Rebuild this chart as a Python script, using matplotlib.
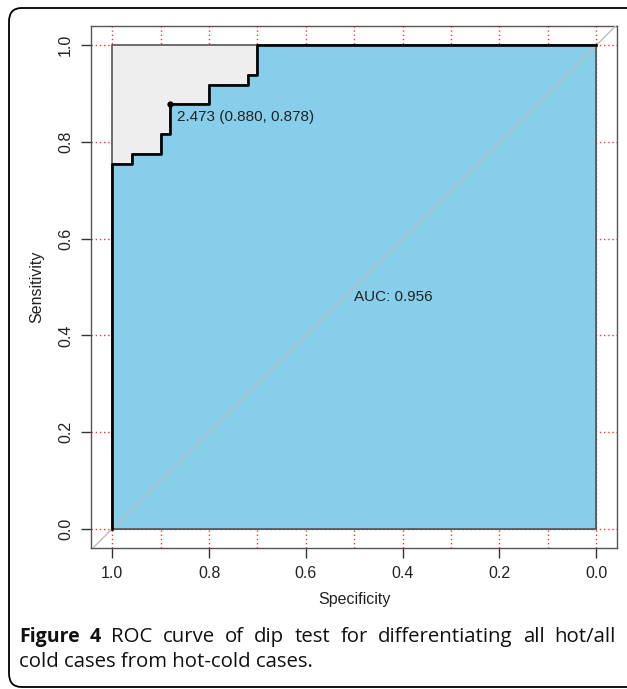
import matplotlib
matplotlib.use("Agg")
import matplotlib.pyplot as plt
from matplotlib.patches import FancyBboxPatch, Polygon
import numpy as np

# ROC curve points (specificity, sensitivity)
roc_spec = [1.0, 1.0, 0.96, 0.96, 0.90, 0.90, 0.88, 0.88, 0.80, 0.80, 0.72, 0.72, 0.70, 0.70, 0.0]
roc_sens = [0.0, 0.755, 0.755, 0.776, 0.776, 0.816, 0.816, 0.878, 0.878, 0.918, 0.918, 0.939, 0.939, 1.0, 1.0]
thr_label = "2.473 (0.880, 0.878)"
thr_point = (0.880, 0.878)
auc_label = "AUC: 0.956"
ticks = [1.0, 0.8, 0.6, 0.4, 0.2, 0.0]
tick_labels = ["1.0", "0.8", "0.6", "0.4", "0.2", "0.0"]
grid_x = np.round(np.arange(0, 1.01, 0.1), 1)
grid_y = np.round(np.arange(0, 1.01, 0.2), 1)
caption_bold = "Figure 4"
caption_line1 = "ROC curve of dip test for differentiating all hot/all"
caption_line2 = "cold cases from hot-cold cases."

plt.rcParams['font.family'] = ['Liberation Sans', 'DejaVu Sans']
cap_font = ['Open Sans', 'DejaVu Sans']
cap_bold_size = 14
cap_size = 14.7

W, H = 627, 689
fig = plt.figure(figsize=(W / 100, H / 100), dpi=100)

# outer rounded frame
frame = FancyBboxPatch((9 / W, 1 - 687 / H), (640 - 9) / W, (687 - 8) / H,
                       boxstyle="round,pad=0,rounding_size=0.02",
                       transform=fig.transFigure, fill=False,
                       edgecolor='black', lw=1.3, clip_on=False)
fig.patches.append(frame)

ax = fig.add_axes([91 / W, 1 - 548 / H, (617 - 91) / W, (548 - 26) / H])
ax.set_xlim(1.044, -0.043)
ax.set_ylim(-0.04, 1.04)

# dotted red grid
for gx in grid_x:
    ax.axvline(gx, color='#ff3333', ls=(0, (1, 2)), lw=1, zorder=0)
for gy in grid_y:
    ax.axhline(gy, color='#ff3333', ls=(0, (1, 2)), lw=1, zorder=0)

# max AUC square and AUC polygon
ax.add_patch(Polygon([(1, 0), (1, 1), (0, 1), (0, 0)], closed=True,
                     facecolor='#eeeeee', edgecolor='#555555', lw=1.2, zorder=1))
auc_poly = list(zip(roc_spec, roc_sens)) + [(0.0, 0.0)]
ax.add_patch(Polygon(auc_poly, closed=True, facecolor='#87ceeb',
                     edgecolor='#555555', lw=1.2, zorder=2))

# identity line
ax.plot([1.044, -0.043], [-0.044, 1.043], color='#bbbbbb', lw=1, zorder=3)

ax.plot(roc_spec, roc_sens, color='black', lw=1.9, zorder=4)
ax.plot(*thr_point, 'o', color='black', ms=3.5, zorder=5)
ax.annotate(thr_label, xy=thr_point, xytext=(5, -4), textcoords='offset points',
            ha='left', va='top', fontsize=11, color='#222222', zorder=6)
ax.annotate(auc_label, xy=(0.5, 0.5), xytext=(0, -2), textcoords='offset points',
            ha='left', va='top', fontsize=11, color='#222222', zorder=6)

ax.set_xticks(ticks)
ax.set_xticklabels(tick_labels)
ax.set_yticks(ticks)
ax.set_yticklabels(tick_labels, rotation=90, va='center')
ax.tick_params(direction='out', length=7, width=1, colors='#333333',
               labelsize=11.5, labelcolor='#222222', pad=6)
for s in ax.spines.values():
    s.set_color('#555555')
    s.set_linewidth(1)
ax.set_xlabel("Specificity", fontsize=11.5, color='#222222', labelpad=8)
ax.set_ylabel("Sensitivity", fontsize=11.5, color='#222222', labelpad=10)

# caption: first line justified between x=19 and x=616 px
renderer = fig.canvas.get_renderer()
words = [(w, 'bold', cap_bold_size) for w in caption_bold.split()] + \
        [(w, 'normal', cap_size) for w in caption_line1.split()]
arts = []
for w, wt, sz in words:
    t = fig.text(0, 1 - 637 / H, w, fontsize=sz, fontweight=wt,
                 family=cap_font, va='center', ha='left', color='#111111')
    arts.append(t)
widths = [t.get_window_extent(renderer).width for t in arts]
gap = (616 - 19 - sum(widths)) / (len(arts) - 1)
x = 19
for t, wd in zip(arts, widths):
    t.set_x(x / W)
    x += wd + gap
fig.text(19 / W, 1 - 662 / H, caption_line2, fontsize=cap_size,
         family=cap_font, va='center', ha='left', color='#111111')

fig.savefig("out.png", dpi=100)
